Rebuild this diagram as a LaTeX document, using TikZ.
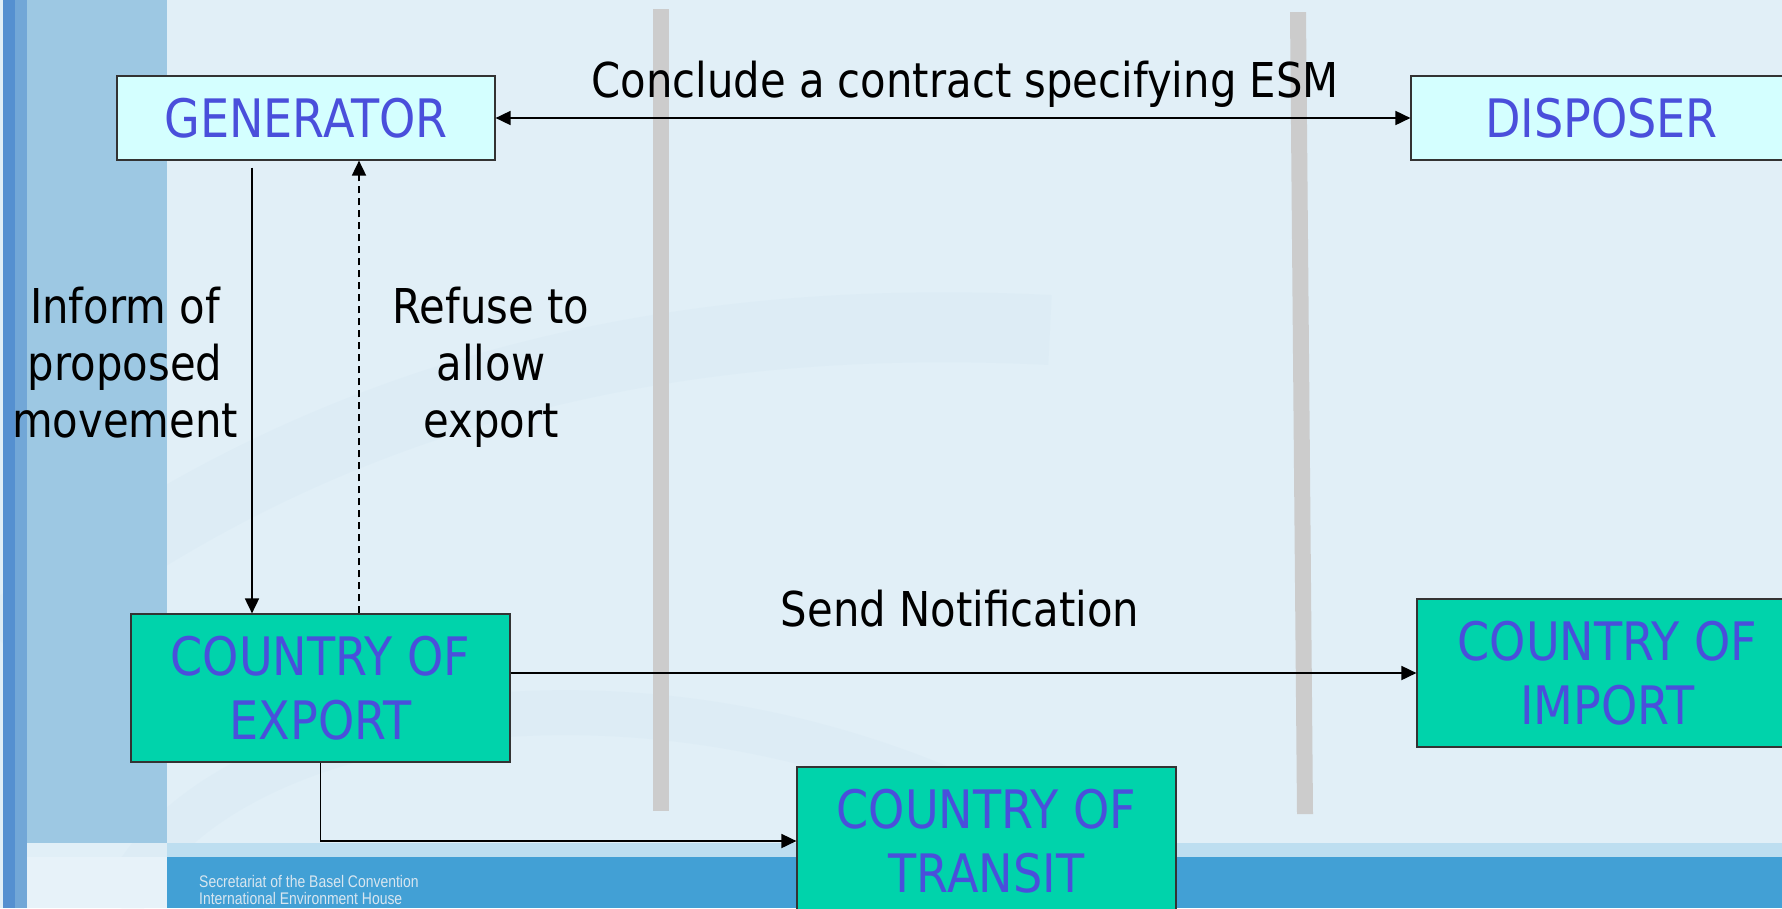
\documentclass[tikz,border=0pt]{standalone}
\usepackage{fontspec}
\setmainfont[FakeStretch=0.87]{DejaVu Sans}
\newfontfamily\footfont[FakeStretch=0.83]{Liberation Sans}
\usetikzlibrary{arrows.meta}

\definecolor{bgblue}{HTML}{E1EFF7}
\definecolor{panelblue}{HTML}{9DC8E3}
\definecolor{stripeblue}{HTML}{5590D0}
\definecolor{footblue}{HTML}{42A0D5}
\definecolor{partyfill}{HTML}{D4FFFF}
\definecolor{statefill}{HTML}{00D3AB}
\definecolor{boxtext}{HTML}{4A4FDB}
\definecolor{bargray}{HTML}{CCCCCC}
\definecolor{foottext}{HTML}{D8E6F0}

\tikzset{
	party/.style={draw=black!80, line width=1.2pt, fill=partyfill, text=boxtext,
		font=\fontsize{53}{64}\selectfont, minimum width=378pt, minimum height=84pt, inner sep=0pt},
	state/.style={party, fill=statefill, minimum width=379pt, minimum height=148pt, align=center},
	lbl/.style={font=\fontsize{48}{57}\selectfont, align=center, inner sep=0pt},
	foot/.style={font=\footfont\fontsize{16.8}{21}\selectfont, text=foottext, inner sep=0pt},
	flow/.style={line width=1.8pt, >={Triangle[length=15pt,width=14pt]}},
}

\begin{document}
\begin{tikzpicture}[x=1pt, y=-1pt]
	
	% slide backdrop
	\fill [bgblue] (0,0) rectangle (1782,908);
	\useasboundingbox (0,0) rectangle (1782,908);
	\draw [line width=70pt, panelblue, opacity=0.06] (0,640) .. controls (300,400) and (650,310) .. (1050,330);
	\draw [line width=45pt, panelblue, opacity=0.06] (120,908) .. controls (200,700) and (700,620) .. (1080,860);
	\fill [panelblue] (27,0) rectangle (167,843);
	\fill [stripeblue] (3,0) rectangle (15,908);
	\fill [stripeblue!60!panelblue] (15,0) rectangle (27,908);
	\fill [footblue!35!white] (167,843) rectangle (1782,857);
	\fill [footblue] (167,857) rectangle (1782,908);
	\fill [bgblue!80!white] (27,857) rectangle (167,908);
	
	% border posts
	\fill [bargray] (653,9) rectangle (669,811);
	\fill [bargray] (1290,12) -- (1306,12) -- (1313,814) -- (1297,814) -- cycle;
	
	\node [party] (gen) at (306,118) {GENERATOR};
	\node [party, minimum width=381pt] (disp) at (1601.5,118) {DISPOSER};
	\node [state] (export) at (320.5,688) {COUNTRY OF\\EXPORT};
	\node [state, minimum width=381pt] (import) at (1607.5,673) {COUNTRY OF\\IMPORT};
	\node [state] (transit) at (986.5,841) {COUNTRY OF\\TRANSIT};
	
	\node [lbl, anchor=base] (contract) at (965,97) {Conclude a contract specifying ESM};
	\node [lbl, anchor=base] (notify) at (960,626) {Send Notification};
	\node [lbl, anchor=north] (inform) at (125,287) {Inform of\\proposed\\movement};
	\node [lbl, anchor=north] (refuse) at (491,287) {Refuse to\\allow\\export};
	
	\coordinate (informx) at (252,0);
	\coordinate (refusex) at (359,0);
	
	\draw [flow, <->] (gen) -- (disp);
	\draw [flow, ->, shorten <=7pt] (gen.south -| informx) -- (export.north -| informx);
	\draw [flow, ->, dash pattern=on 7pt off 5pt] (export.north -| refusex) -- (gen.south -| refusex);
	\draw [flow, ->] (export.east |- import.west) -- (import.west);
	\draw [flow, ->] (export.south) |- (transit.west);
	
	\node [foot, anchor=base west] (secretariat) at (199,887) {Secretariat of the Basel Convention};
	\node [foot, anchor=base west] (house) at (199,904) {International Environment House};
\end{tikzpicture}
\end{document}
